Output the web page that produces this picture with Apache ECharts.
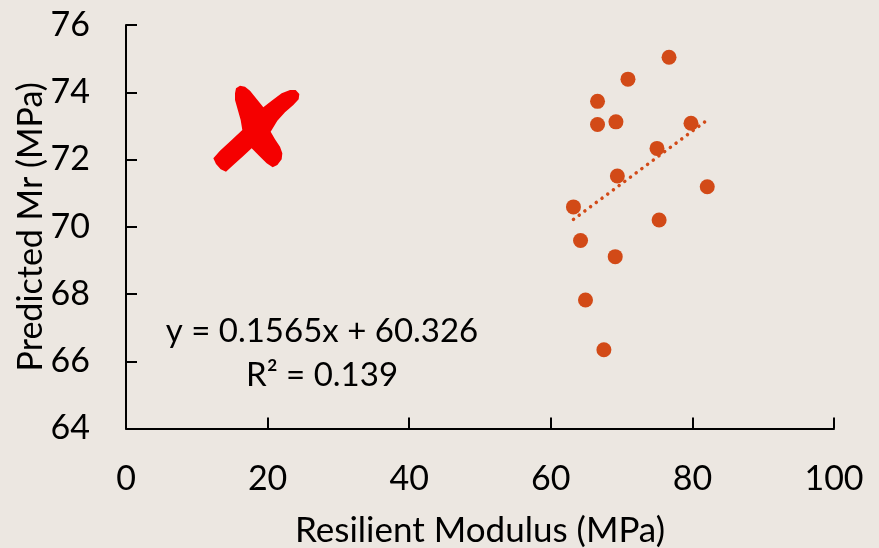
<!DOCTYPE html>
<html>
<head>
<meta charset="utf-8">
<script src="https://cdn.jsdelivr.net/npm/echarts@6/dist/echarts.min.js"></script>
<style>
  html, body { margin: 0; padding: 0; background: #ECE7E1; }
  #chart { width: 879px; height: 548px; }
</style>
</head>
<body>
<div id="chart"></div>
<script>
// Measured resilient modulus (MPa) against predicted Mr (MPa)
const resilientModulus = [76.7, 70.9, 66.6, 66.6, 69.2, 79.8, 75.0, 69.4, 82.1, 63.2, 75.3, 64.2, 69.1, 64.9, 67.5];
const predictedMr      = [75.04, 74.39, 73.73, 73.04, 73.12, 73.08, 72.33, 71.51, 71.19, 70.59, 70.20, 69.59, 69.11, 67.82, 66.34];

// Linear trend line coefficients and fit quality
const slope = 0.1565;
const intercept = 60.326;
const rSquared = 0.139;

const xTicks = [0, 20, 40, 60, 80, 100];
const yTicks = [64, 66, 68, 70, 72, 74, 76];

const FONT = 'Lato, "Open Sans", sans-serif';
const ORANGE = '#D24A17';

const points = resilientModulus.map((x, i) => [x, predictedMr[i]]);
const xMin = Math.min(...resilientModulus);
const xMax = Math.max(...resilientModulus);
const trend = [xMin, xMax].map(x => [x, slope * x + intercept]);

// Outline of the red cross drawn in the upper-left of the plot (in 1/3-pixel units)
const crossOutline = [
  [105, 40], [108, 25], [120, 17], [135, 20], [150, 32], [170, 57], [190, 82],
  [215, 62], [245, 40], [270, 30], [287, 30], [298, 42], [296, 58], [280, 75],
  [255, 97], [232, 122], [212, 155],
  [225, 178], [240, 200], [247, 220], [245, 238], [232, 255], [218, 262],
  [200, 250], [178, 228], [155, 205],
  [130, 228], [100, 255], [78, 275], [62, 268], [48, 252], [40, 235],
  [60, 212], [95, 180], [127, 150],
  [122, 120], [112, 85], [105, 60]
];

const chart = echarts.init(document.getElementById('chart'), null, { renderer: 'canvas' });

chart.setOption({
  backgroundColor: '#ECE7E1',
  animation: false,
  grid: { left: 126, right: 45, top: 25, bottom: 119.5, containLabel: false, outerBoundsMode: 'none' },
  xAxis: {
    type: 'value',
    min: xTicks[0],
    max: xTicks[xTicks.length - 1],
    interval: 20,
    name: 'Resilient Modulus (MPa)',
    nameLocation: 'middle',
    nameGap: 85,
    nameTextStyle: { fontFamily: FONT, fontSize: 35, color: '#000' },
    axisLine: { lineStyle: { color: '#000', width: 2 } },
    axisTick: { show: true, inside: true, length: 11, lineStyle: { color: '#000', width: 2 } },
    axisLabel: { fontFamily: FONT, fontSize: 34, color: '#000', margin: 34 },
    splitLine: { show: false }
  },
  yAxis: {
    type: 'value',
    min: yTicks[0],
    max: yTicks[yTicks.length - 1],
    interval: 2,
    name: 'Predicted Mr (MPa)',
    nameLocation: 'middle',
    nameGap: 78,
    nameMoveOverlap: false,
    nameRotate: 90,
    nameTextStyle: { fontFamily: FONT, fontSize: 34, color: '#000' },
    axisLine: { show: true, lineStyle: { color: '#000', width: 2 } },
    axisTick: { show: true, inside: true, length: 11, lineStyle: { color: '#000', width: 2 } },
    axisLabel: { fontFamily: FONT, fontSize: 34, color: '#000', margin: 36 },
    splitLine: { show: false }
  },
  series: [
    {
      type: 'line',
      data: trend,
      symbol: 'none',
      silent: true,
      z: 3,
      lineStyle: { color: ORANGE, width: 3.5, type: [0.1, 7], cap: 'round' }
    },
    {
      type: 'scatter',
      data: points,
      symbol: 'circle',
      symbolSize: 15,
      z: 2,
      itemStyle: { color: ORANGE, opacity: 1 }
    }
  ],
  graphic: [
    {
      type: 'text',
      x: 322,
      y: 309,
      style: {
        text: 'y = ' + slope + 'x + ' + intercept + '\nR² = ' + rSquared,
        font: '33px ' + FONT,
        fill: '#000',
        align: 'center',
        verticalAlign: 'top',
        lineHeight: 44
      }
    },
    {
      type: 'polygon',
      shape: { points: crossOutline.map(p => [200 + p[0] / 3, 80 + p[1] / 3]) },
      style: { fill: '#F50000' }
    }
  ]
});
</script>
</body>
</html>
